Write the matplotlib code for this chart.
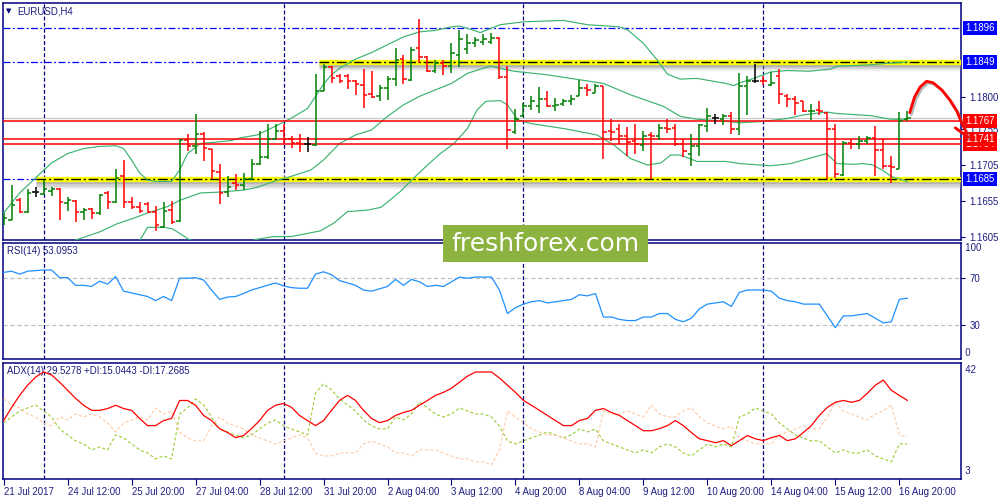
import numpy as np
import matplotlib
matplotlib.use("Agg")
import matplotlib.pyplot as plt
import matplotlib.transforms as mtransforms
import matplotlib.patheffects as pe
from matplotlib.collections import LineCollection
from matplotlib.patches import Rectangle

plt.rcParams['font.family'] = ['Liberation Sans', 'DejaVu Sans']
plt.rcParams['lines.scale_dashes'] = False

# ---------------- data ----------------
opens = [1.1623,1.1628,1.1656,1.1640,1.1667,1.1665,1.1669,1.1672,1.1652,1.1655,
         1.1640,1.1644,1.1638,1.1666,1.1654,1.1690,1.1654,1.1647,1.1651,1.1640,
         1.1619,1.1642,1.1627,1.1740,1.1731,1.1748,1.1727,1.1695,1.1667,1.1680,
         1.1677,1.1686,1.1706,1.1716,1.1741,1.1753,1.1742,1.1736,1.1734,1.1733,
         1.1809,1.1842,1.1829,1.1829,1.1822,1.1817,1.1804,1.1801,1.1812,1.1825,
         1.1853,1.1824,1.1868,1.1856,1.1837,1.1847,1.1843,1.1859,1.1867,1.1875,
         1.1877,1.1877,1.1883,1.1828,1.1751,1.1773,1.1787,1.1787,1.1797,1.1788,
         1.1790,1.1795,1.1802,1.1812,1.1806,1.1815,1.1753,1.1756,1.1745,1.1738,
         1.1733,1.1747,1.1745,1.1757,1.1757,1.1734,1.1721,1.1731,1.1760,1.1770,
         1.1769,1.1774,1.1756,1.1815,1.1823,1.1823,1.1817,1.1830,1.1802,1.1797,
         1.1794,1.1780,1.1782,1.1777,1.1756,1.1691,1.1736,1.1735,1.1738,1.1743,
         1.1726,1.1703,1.1700,1.1769]
highs = [1.1638,1.1677,1.1659,1.1672,1.1675,1.1684,1.1674,1.1673,1.1660,1.1656,
         1.1645,1.1645,1.1665,1.1669,1.1700,1.1712,1.1660,1.1654,1.1654,1.1648,
         1.1653,1.1655,1.1741,1.1748,1.1776,1.1751,1.1728,1.1707,1.1689,1.1693,
         1.1694,1.1714,1.1752,1.1763,1.1763,1.1763,1.1746,1.1748,1.1744,1.1832,
         1.1846,1.1844,1.1832,1.1832,1.1824,1.1839,1.1837,1.1817,1.1829,1.1868,
         1.1859,1.1870,1.1909,1.1857,1.1852,1.1852,1.1875,1.1893,1.1888,1.1884,
         1.1888,1.1889,1.1884,1.1844,1.1783,1.1792,1.1801,1.1814,1.1809,1.1798,
         1.1797,1.1803,1.1824,1.1818,1.1818,1.1815,1.1769,1.1763,1.1758,1.1762,
         1.1753,1.1751,1.1762,1.1769,1.1762,1.1741,1.1748,1.1763,1.1784,1.1776,
         1.1776,1.1779,1.1834,1.1829,1.1846,1.1829,1.1835,1.1839,1.1804,1.1801,
         1.1795,1.1790,1.1794,1.1779,1.1763,1.1738,1.1742,1.1746,1.1745,1.1759,
         1.1741,1.1717,1.1779,1.1781]
lows = [1.1621,1.1628,1.1638,1.1638,1.1661,1.1663,1.1662,1.1628,1.1641,1.1625,
        1.1628,1.1630,1.1635,1.1643,1.1652,1.1645,1.1643,1.1638,1.1638,1.1613,
        1.1618,1.1623,1.1626,1.1724,1.1721,1.1711,1.1686,1.1650,1.1661,1.1670,
        1.1670,1.1684,1.1705,1.1714,1.1741,1.1734,1.1729,1.1723,1.1723,1.1731,
        1.1808,1.1819,1.1819,1.1811,1.1803,1.1784,1.1798,1.1795,1.1796,1.1815,
        1.1818,1.1822,1.1848,1.1835,1.1833,1.1831,1.1833,1.1842,1.1860,1.1870,
        1.1872,1.1874,1.1825,1.1727,1.1749,1.1772,1.1782,1.1777,1.1786,1.1780,
        1.1787,1.1789,1.1801,1.1801,1.1805,1.1713,1.1739,1.1734,1.1718,1.1720,
        1.1725,1.1686,1.1740,1.1750,1.1732,1.1716,1.1703,1.1717,1.1751,1.1763,
        1.1761,1.1748,1.1747,1.1775,1.1820,1.1817,1.1815,1.1790,1.1786,1.1775,
        1.1779,1.1768,1.1775,1.1686,1.1687,1.1690,1.1727,1.1727,1.1734,1.1690,
        1.1699,1.1680,1.1700,1.1766]
closes = [1.1631,1.1649,1.1640,1.1666,1.1667,1.1671,1.1672,1.1654,1.1656,1.1639,
          1.1642,1.1638,1.1663,1.1654,1.1687,1.1653,1.1646,1.1641,1.1640,1.1621,
          1.1641,1.1625,1.1740,1.1731,1.1748,1.1729,1.1696,1.1666,1.1675,1.1677,
          1.1685,1.1706,1.1716,1.1741,1.1752,1.1742,1.1736,1.1734,1.1734,1.1809,
          1.1842,1.1826,1.1823,1.1822,1.1818,1.1803,1.1800,1.1812,1.1825,1.1852,
          1.1825,1.1866,1.1856,1.1837,1.1847,1.1843,1.1861,1.1881,1.1876,1.1880,
          1.1881,1.1882,1.1828,1.1754,1.1769,1.1788,1.1795,1.1797,1.1788,1.1789,
          1.1794,1.1797,1.1812,1.1810,1.1815,1.1751,1.1751,1.1745,1.1737,1.1735,
          1.1745,1.1745,1.1757,1.1756,1.1735,1.1724,1.1731,1.1761,1.1774,1.1770,
          1.1774,1.1756,1.1815,1.1823,1.1823,1.1822,1.1819,1.1804,1.1797,1.1792,
          1.1780,1.1781,1.1781,1.1756,1.1693,1.1736,1.1734,1.1738,1.1743,1.1726,
          1.1704,1.1702,1.1766,1.1770]

# Bollinger bands (bar index, price)
bb_up_x = [0,2,4,6,8,10,12,14,15,16,17,18,19,21,22,23,24.6,28.4,29.6,31.7,33.75,35.9,38,39,40,41,42,44,46,48,50,52,54,56,57,58,59.6,62.1,65,70,73,77,78,80,81.7,83,84.6,86.7,90.3,91.3,92.1,93.8,95.9,98,100.7,103.4,104.2,108.4,110.4,113]
bb_up_y = [1.1638,1.1666,1.1687,1.1708,1.1721,1.1728,1.1731,1.1732,1.1728,1.1712,1.1694,1.1684,1.1682,1.1682,1.1698,1.1721,1.1735,1.1739,1.1743,1.1747,1.1758,1.1770,1.1784,1.1801,1.1818,1.1831,1.1840,1.1853,1.1862,1.1873,1.1884,1.1891,1.1893,1.1898,1.1899,1.1896,1.1890,1.1901,1.1905,1.1907,1.1901,1.1898,1.1894,1.1875,1.1852,1.1832,1.1825,1.1826,1.1819,1.1816,1.1820,1.1826,1.1835,1.1837,1.1836,1.1839,1.1843,1.1845,1.1847,1.1849]
bb_mid_x = [0,5,9.2,12.1,14.2,16.3,18,20.5,22.1,24.6,26.7,30,31.7,33.75,35.9,38.4,40,42,44,46,48,50,52,54,56,58,59.6,60.9,62.1,63.8,68,72.1,75,78.4,82.5,84.6,86.7,90.3,92.1,95,98,100,102.9,104.2,108.4,110.9,113]
bb_mid_y = [1.1570,1.1585,1.1601,1.1612,1.1623,1.1631,1.1638,1.1647,1.1656,1.1666,1.1667,1.1670,1.1674,1.1682,1.1689,1.1698,1.1712,1.1735,1.1747,1.1754,1.1773,1.1789,1.1801,1.1810,1.1819,1.1833,1.1839,1.1843,1.1840,1.1836,1.1831,1.1824,1.1819,1.1803,1.1787,1.1773,1.1769,1.1766,1.1764,1.1766,1.1770,1.1775,1.1779,1.1777,1.1774,1.1769,1.1769]
bb_low_x = [0,10,15,17.1,18,20,21.1,23.2,26,29,31.5,33.75,35.9,39.6,41.3,43,45.5,47.2,49.6,51.3,53,54.6,56.3,58,59.2,60.3,62.1,63,64.3,65.9,70,74.2,76.3,78.4,80.5,82.2,83.4,84.6,86.7,90.3,92.1,95.9,98.4,100,102.9,104.2,106.3,107.5,108.7,110,111,113]
bb_low_y = [1.1560,1.1565,1.1580,1.1601,1.1618,1.1618,1.1616,1.1601,1.1590,1.1590,1.1601,1.1605,1.1605,1.1613,1.1624,1.1640,1.1642,1.1646,1.1668,1.1687,1.1705,1.1721,1.1735,1.1756,1.1782,1.1794,1.1795,1.1789,1.1768,1.1763,1.1756,1.1747,1.1733,1.1714,1.1705,1.1708,1.1719,1.1719,1.1710,1.1710,1.1707,1.1704,1.1707,1.1712,1.1721,1.1707,1.1706,1.1707,1.1705,1.1697,1.1689,1.1682]

rsi = [75,76,73.5,76,76.5,77,77,70.5,70.5,64,64,63,67.5,65,71.5,59,57.5,56,54.5,51,
       54.5,51,70,70,70.5,68.5,60,52,54,54.5,57,60,62,64,66,63.5,62,61.5,61.5,73.5,
       75.5,73,68,66,64,60,59,61,63,69,64,69,67,63,64,63,67,71,70,71,
       71,71,60,40,45,48,50,51,49,50,51,52,56,55,57,37,37,35,34,34,
       37,37,40,40,35,33,36,44,48,49,50,46,58,60,60,60,59,53,51,50,
       48,48,48,38,28,38,38,39,40,36,32,33,52,53.1]
adx = [22.8,27.2,31.2,34.6,37.3,39,38,35.6,32.9,30.2,27.9,26.2,26.2,26.8,27.9,26.8,26.2,23.5,21.1,21.1,
       22.8,23.5,29.5,29.5,27.9,24.5,22.8,20.1,18.8,17.1,17.8,20.1,22.8,26.2,27.9,28.5,27.2,24.5,22.8,21.1,
       22.8,26.2,29.5,31.2,29.5,26.2,23.5,22.1,22.8,24.5,25.5,26.2,27.9,29.5,31.2,32.2,33.6,35.6,37.6,39,
       39,39,37,34.6,32.2,29.5,27.9,26.2,24.5,22.8,21.1,21.1,22.8,23.5,26.2,26.8,25.5,24.5,22.8,21.1,
       19.4,19.4,20.1,21.1,22.8,21.1,18.8,16.7,16.1,15.4,16.1,14.4,16.1,17.8,16.7,16.1,17.1,17.8,16.1,16.7,
       18.8,21.1,24.5,27.2,28.9,29.5,28.9,29.5,31.9,34.6,36.3,32.9,31.2,29.53]
plus_di = [22,24,26,27,28,26,24,20,18,16,15,13,14,13,18,17,15,13,12,10,
           11,10,25,27,30,28,24,20,19,18,17,18,20,22,23,21,20,19,18,32,
           35,33,30,28,26,23,21,20,20,24,23,25,29,27,25,24,25,27,26,25,
           25,24,21,16,15,16,17,18,19,18,17,18,20,19,20,16,15,14,13,12,
           13,12,14,15,14,12,11,13,15,14,15,14,24,25,27,26,25,22,20,18,
           17,16,16,14,12,13,12,12,13,11,10,9,15,15.04]
minus_di = [30,28,27,25,24,22,21,24,23,25,24,25,24,22,19,22,23,24,23,27,
            25,26,19,17,16,16,21,24,22,21,20,18,17,16,15,16,17,18,17,12,
            11,11,12,12,12,15,16,15,14,12,12,11,13,13,13,12,11,10,10,9,
            9,8,13,26,24,22,20,19,18,18,17,16,15,15,14,26,25,25,26,25,
            24,28,25,24,24,26,27,24,22,21,20,21,17,16,15,15,15,18,19,20,
            21,20,20,24,29,26,25,24,23,25,26,28,18,17.27]

separator_bars = [5, 35, 65, 95]
tick_bars = [0, 8, 16, 24, 32, 40, 48, 56, 64, 72, 80, 88, 96, 104, 112]
tick_labels = ["21 Jul 2017", "24 Jul 12:00", "25 Jul 20:00", "27 Jul 04:00", "28 Jul 12:00",
               "31 Jul 20:00", "2 Aug 04:00", "3 Aug 12:00", "4 Aug 20:00", "8 Aug 04:00",
               "9 Aug 12:00", "10 Aug 20:00", "14 Aug 04:00", "15 Aug 12:00", "16 Aug 20:00"]
price_ticks = [1.1605, 1.1655, 1.1705, 1.1755, 1.1800]
blue_levels = [1.1896, 1.1849, 1.1685]
red_levels = [1.1767, 1.1741, 1.1734]
bid_level = 1.1770
band_levels = [1.1849, 1.1685]
band_start = [39.4, 4.0]
forecast_x = [113.3, 113.9, 114.6, 115.4, 116.2, 117.3, 118.3, 119.2, 119.8, 120.4]
forecast_y = [1.1778, 1.1800, 1.1814, 1.1822, 1.1820, 1.1810, 1.1796, 1.1780, 1.1764, 1.1750]
arrow_head_x = [119.0, 120.6]
arrow_head_y = [1.1757, 1.1744]

# ---------------- layout ----------------
NAVY = '#00007f'
TXT = '#1c1c80'
FS = 6.9
W, H = 1000, 500
fig = plt.figure(figsize=(10, 5), dpi=100)
fig.patch.set_facecolor('white')

def rect(x0, y0, x1, y1):
    return [x0 / W, 1 - y1 / H, (x1 - x0) / W, (y1 - y0) / H]

ax1 = fig.add_axes(rect(3, 3, 960.5, 240))
ax2 = fig.add_axes(rect(3, 243, 960.5, 359))
ax3 = fig.add_axes(rect(3, 363, 960.5, 479))

XL = (-0.08, 119.65)
for ax in (ax1, ax2, ax3):
    ax.set_xlim(*XL)
    for s in ax.spines.values():
        s.set_color(NAVY)
        s.set_linewidth(1.1)
    ax.tick_params(axis='both', colors=NAVY, labelcolor=TXT, labelsize=FS,
                   length=3, width=0.8, direction='out')
    ax.yaxis.tick_right()
    ax.set_facecolor('white')
    for b in separator_bars:
        ax.axvline(b, color=NAVY, lw=0.9, ls=(0, (2.8, 1.6)), zorder=1)

ax1.set_xticks([])
ax2.set_xticks([])

# ---------------- main panel ----------------
ax1.set_ylim(1.16003, 1.19313)
n = len(closes)
xs = np.arange(n)
segs, cols = [], []
for i in range(n):
    o, h, l, c = opens[i], highs[i], lows[i], closes[i]
    col = '#008000' if c > o else ('#ff0000' if c < o else '#000000')
    segs += [[(i, l), (i, h)], [(i - 0.42, o), (i, o)], [(i, c), (i + 0.42, c)]]
    cols += [col] * 3
lc = LineCollection(segs, colors=cols, linewidths=1.1, zorder=6, capstyle='butt')
ax1.add_collection(lc)

for bx, by in ((bb_up_x, bb_up_y), (bb_mid_x, bb_mid_y), (bb_low_x, bb_low_y)):
    ax1.plot(bx, by, color='#3cb371', lw=0.85, zorder=4)

# horizontal levels
ax1.axhline(bid_level, color='#c8c8c8', lw=0.9, zorder=2)
for lv in red_levels:
    ax1.axhline(lv, color='#ff0000', lw=1.1, zorder=5)
ax1.axhline(blue_levels[0], color='#0000ff', lw=0.9, ls=(0, (5, 1.8, 1.3, 1.8)), zorder=3)
for lv, xs0 in zip(band_levels, band_start):
    ax1.plot([XL[0], xs0], [lv, lv], color='#0000ff', lw=0.9, ls=(0, (5, 1.8, 1.3, 1.8)), zorder=3)
    shadow = [pe.SimpleLineShadow(offset=(0, -1.5), shadow_color='#808080', alpha=0.45),
              pe.SimpleLineShadow(offset=(0, -3.0), shadow_color='#909090', alpha=0.3),
              pe.SimpleLineShadow(offset=(0, -4.5), shadow_color='#a0a0a0', alpha=0.15),
              pe.Normal()]
    ax1.plot([xs0, XL[1]], [lv, lv], color='#ffff00', lw=3.8, zorder=3,
             solid_capstyle='butt', path_effects=shadow)
    ax1.plot([xs0, XL[1]], [lv, lv], color='#000000', lw=1.0,
             ls=(0, (7, 2, 1.5, 2)), zorder=3.5)

# right axis labels
ax1.set_yticks(price_ticks)
ax1.set_yticklabels([f"{p:.4f}" for p in price_ticks])
tr = mtransforms.blended_transform_factory(ax1.transAxes, ax1.transData)
box_levels = [(1.1896, '#0000ff'), (1.1849, '#0000ff'), (1.1685, '#0000ff'),
              (1.1767, '#ff0000'), (1.1734, '#ff0000'), (1.1741, '#ff0000')]
for lv, colr in box_levels:
    ax1.annotate(f"{lv:.4f}", xy=(1.0, lv), xycoords=tr, xytext=(3.4, 0),
                 textcoords='offset points', va='center', ha='left', fontsize=FS,
                 color='white', annotation_clip=False,
                 bbox=dict(boxstyle='square,pad=0.22', fc=colr, ec='none'))

# forecast curve
ax1.plot(forecast_x, forecast_y, color='#ff0000', lw=2.0, clip_on=False, zorder=10,
         solid_capstyle='round',
         path_effects=[pe.SimpleLineShadow(offset=(1.2, -1.2), shadow_color='#707070', alpha=0.5), pe.Normal()])
ax1.plot(arrow_head_x, arrow_head_y, color='#ff0000', lw=2.0, clip_on=False, zorder=10,
         solid_capstyle='round',
         path_effects=[pe.SimpleLineShadow(offset=(1.2, -1.2), shadow_color='#707070', alpha=0.5), pe.Normal()])

# ---------------- RSI panel ----------------
ax2.set_ylim(1.3, 100.0)
ax2.plot(xs, rsi, color='#1e90ff', lw=0.9, zorder=4)
for lv in (70, 30):
    ax2.axhline(lv, color='#c0c0c0', lw=0.9, ls=(0, (3, 2)), zorder=2)
ax2.set_yticks([70, 30])
ax2.set_yticklabels(['70', '30'])
tr2 = mtransforms.blended_transform_factory(ax2.transAxes, ax2.transData)
ax2.text(1.0, 95.8, '  100', transform=tr2, fontsize=FS, color=TXT, va='center', ha='left')
ax2.text(1.0, 6.2, '  0', transform=tr2, fontsize=FS, color=TXT, va='center', ha='left')
ax2.text(0.004, 0.93, 'RSI(14) 53.0953', transform=ax2.transAxes, fontsize=FS,
         color=TXT, va='center', ha='left')

# ---------------- ADX panel ----------------
ax3.set_ylim(3.3, 42.0)
ax3.plot(xs, plus_di, color='#9acd32', lw=0.8, ls=(0, (2.2, 1.6)), zorder=3)
ax3.plot(xs, minus_di, color='#ffc8a0', lw=0.8, ls=(0, (2.2, 1.6)), zorder=3)
ax3.plot(xs, adx, color='#ff0000', lw=0.9, zorder=4)
ax3.set_yticks([])
tr3 = mtransforms.blended_transform_factory(ax3.transAxes, ax3.transData)
ax3.text(1.0, 39.6, '  42', transform=tr3, fontsize=FS, color=TXT, va='center', ha='left')
ax3.text(1.0, 6.0, '  3', transform=tr3, fontsize=FS, color=TXT, va='center', ha='left')
ax3.text(0.004, 0.93, 'ADX(14) 29.5278 +DI:15.0443 -DI:17.2685', transform=ax3.transAxes,
         fontsize=FS, color=TXT, va='center', ha='left')
ax3.set_xticks(tick_bars)
ax3.set_xticklabels(tick_labels)
ax3.tick_params(axis='x', length=4, pad=2)
for lbl in ax3.get_xticklabels():
    lbl.set_ha('left')

# ---------------- title & watermark ----------------
fig.text(9 / W, 1 - 11 / H, '▼', fontsize=5, color=NAVY, va='center', ha='center',
         family='DejaVu Sans')
fig.text(17 / W, 1 - 11.5 / H, 'EURUSD,H4', fontsize=FS, color=TXT, va='center', ha='left')

wm = Rectangle((443 / W, 1 - 262 / H), 205 / W, 37 / H, transform=fig.transFigure,
               facecolor='#8cb340', edgecolor='none', zorder=20)
fig.add_artist(wm)
fig.text(545.5 / W, 1 - 244 / H, 'freshforex.com', fontsize=18, color='white',
         va='center', ha='center', zorder=21, family='DejaVu Sans')

fig.savefig('out.png', dpi=100, facecolor='white')
